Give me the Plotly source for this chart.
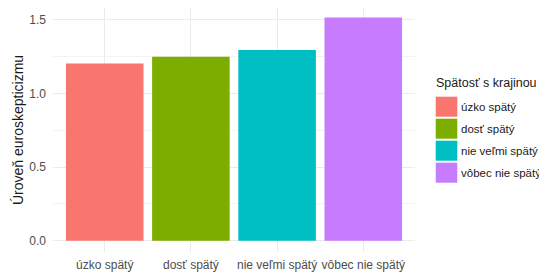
import plotly.graph_objects as go

categories = ["úzko spätý", "dosť spätý", "nie veľmi spätý", "vôbec nie spätý"]
values = [1.203, 1.249, 1.294, 1.514]
colors = ["#F8766D", "#7CAE00", "#00BFC4", "#C77CFF"]
y_ticks = [0.0, 0.5, 1.0, 1.5]
y_tick_labels = ["0.0", "0.5", "1.0", "1.5"]
legend_title = "Spätosť s krajinou"
y_title = "Úroveň euroskepticizmu"

FONT = "Liberation Sans, Arial, sans-serif"
OFF = 8  # page body margin offset
W, H = 547 - OFF, 273 - OFF
ML, MR, MT, MB = 53 - OFF, W - (415 - OFF), 0, H - (252 - OFF)

fig = go.Figure()
fig.add_trace(go.Bar(
    x=categories, y=values, marker=dict(color=colors, line=dict(width=0)),
    width=0.9, showlegend=False, hoverinfo="x+y",
))

ymax = max(values)
fig.update_layout(
    width=W, height=H,
    margin=dict(l=ML, r=MR, t=MT, b=MB, autoexpand=False),
    paper_bgcolor="white", plot_bgcolor="white",
    font=dict(family=FONT, size=12, color="#4d4d4d"),
    showlegend=False,
    xaxis=dict(
        range=[-0.6, 3.6], showgrid=True, gridcolor="#ebebeb", gridwidth=1,
        zeroline=False, showline=False, ticks="", automargin=False,
        ticklabelstandoff=4,
        tickfont=dict(size=12, color="#4d4d4d"),
    ),
    yaxis=dict(
        range=[-0.05 * ymax, 1.043 * ymax], tickvals=y_ticks, ticktext=y_tick_labels,
        showgrid=True, gridcolor="#ebebeb", gridwidth=1,
        zeroline=False, showline=False, ticks="", automargin=False,
        ticklabelstandoff=6,
        tickfont=dict(size=12, color="#4d4d4d"),
        minor=dict(tickvals=[0.25, 0.75, 1.25], showgrid=True, gridcolor="#f3f3f3", gridwidth=0.6),
        title=dict(text=y_title, font=dict(size=14, color="#1a1a1a"), standoff=2),
    ),
)

pw = W - ML - MR
ph = H - MT - MB

def px_x(x):
    return (x - OFF - ML) / pw

def px_y(y):
    return (H - MB - (y - OFF)) / ph

# ggplot-style legend drawn in (reference) pixel positions
lx = 435.7
ly0 = 96.7
pitch = 22
kw, kh = 21.6, 20
fig.add_annotation(x=px_x(lx - 1.5), y=px_y(83), xref="paper", yref="paper", text=legend_title,
                   showarrow=False, xanchor="left", yanchor="middle",
                   font=dict(size=12.5, color="#1a1a1a"))
for i, (cat, col) in enumerate(zip(categories, colors)):
    top = ly0 + i * pitch
    fig.add_shape(type="rect", xref="paper", yref="paper",
                  x0=px_x(lx), x1=px_x(lx + kw), y0=px_y(top + kh), y1=px_y(top),
                  fillcolor=col, line=dict(width=0))
    fig.add_annotation(x=px_x(lx + kw + 2), y=px_y(top + kh / 2), xref="paper", yref="paper",
                       text=cat, showarrow=False, xanchor="left", yanchor="middle",
                       font=dict(size=11.5, color="#1a1a1a"))

fig.write_html("out.html")
